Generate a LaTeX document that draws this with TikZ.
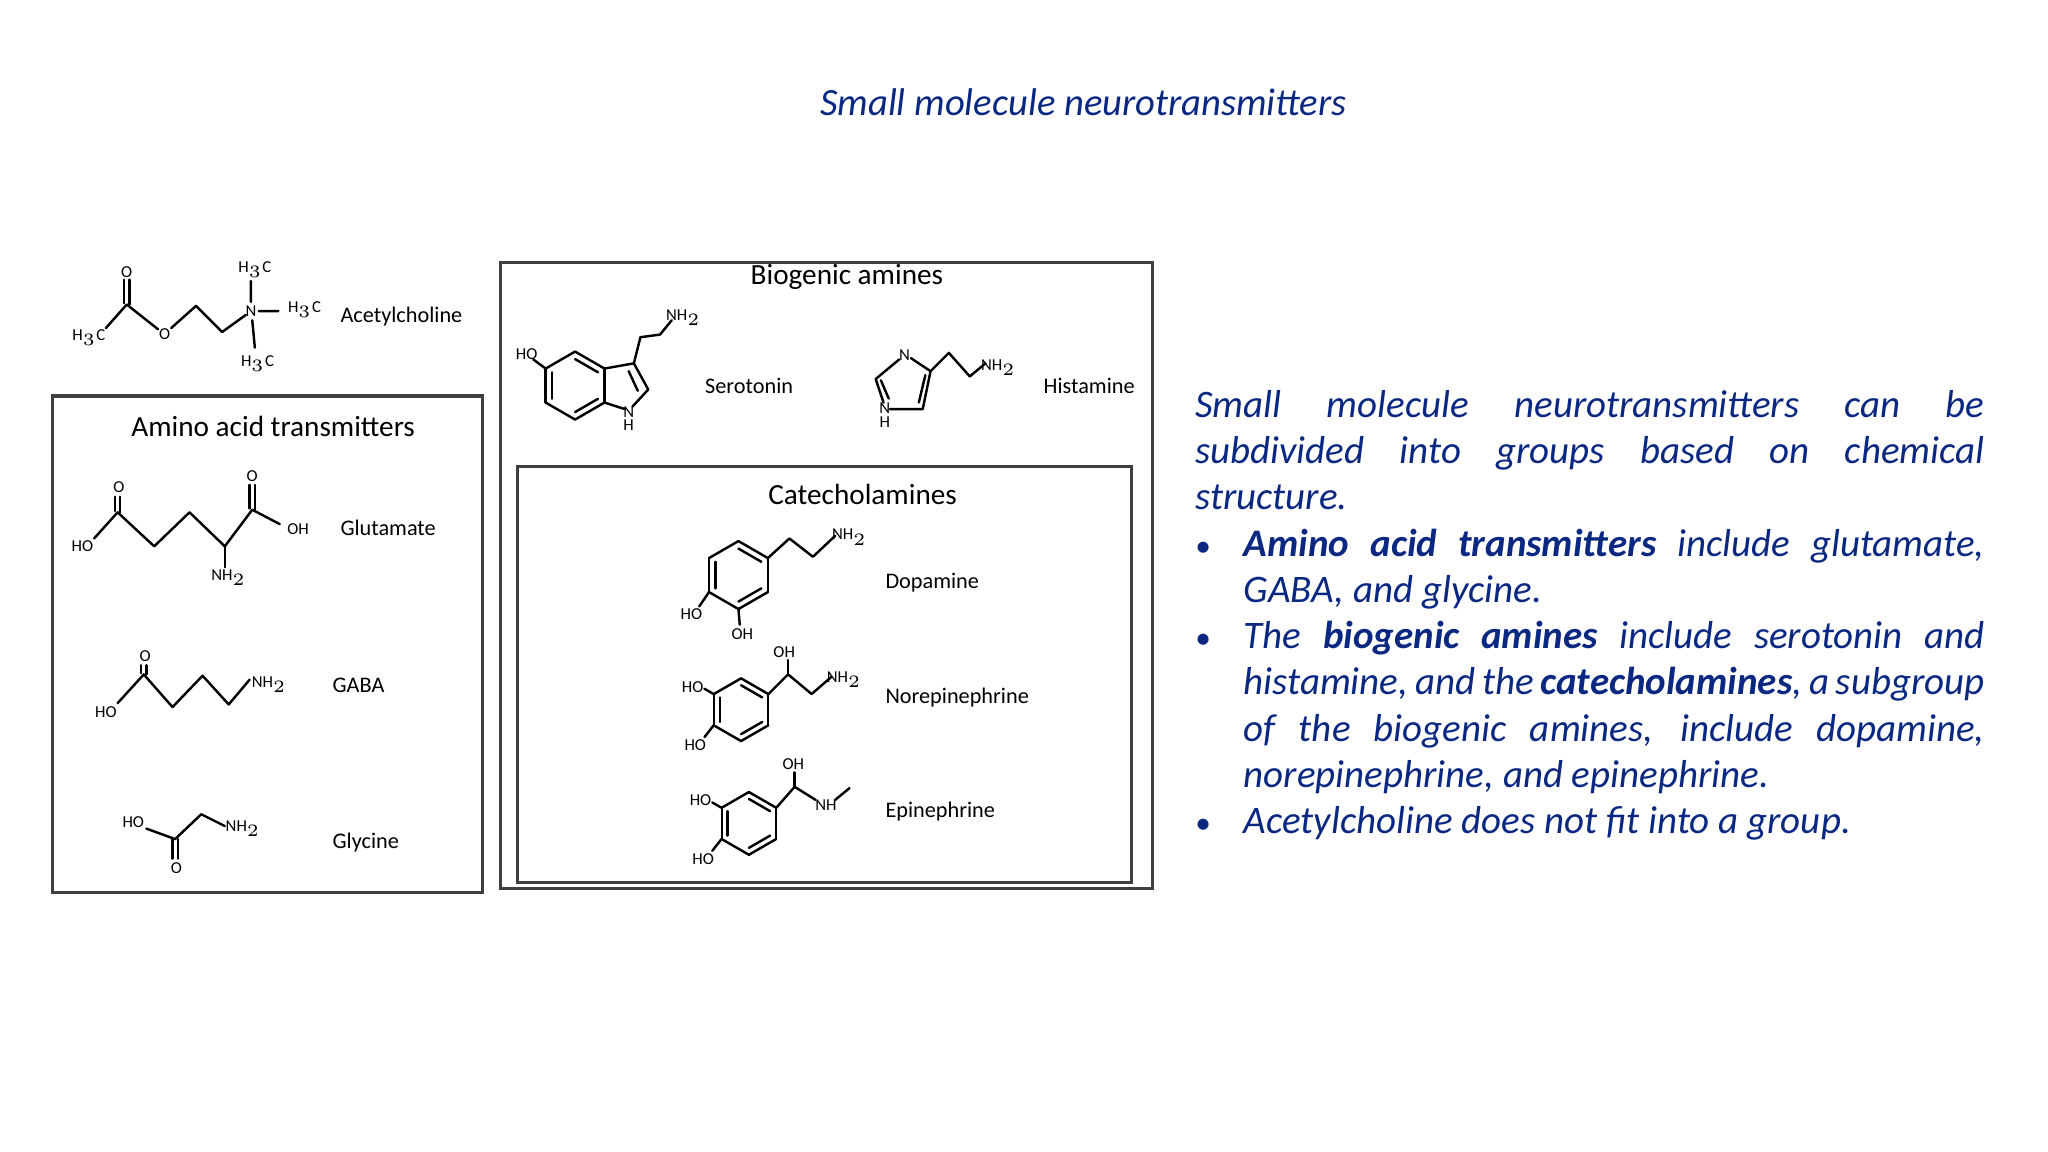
\documentclass[tikz,border=0pt]{standalone}
\usepackage{fontspec}
\setmainfont{Carlito}
\usetikzlibrary{calc}
\definecolor{slideblue}{RGB}{10,40,130}
\newcommand{\benzene}[2]{%
  \foreach \a in {30,90,...,330}{\draw[bond] ($(#1)+(\a:#2)$) -- ($(#1)+(\a+60:#2)$);}
  \foreach \a in {30,150,270}{\draw[bond] ($(#1)+(\a:#2*0.78)$) -- ($(#1)+(\a+60:#2*0.78)$);}
}
\newcommand{\bul}{\hangindent=0.49cm\hangafter=1\noindent\makebox[0.49cm][l]{\upshape\small\textbullet}}
\begin{document}
\begin{tikzpicture}[x=0.0132cm, y=-0.0132cm,
bond/.style={line width=0.7pt, line cap=round, line join=round},
atom/.style={font=\fontsize{4.8}{5}\selectfont, inner sep=0.3pt},
molname/.style={font=\fontsize{6.4}{7}\selectfont, anchor=west, inner sep=0pt},
boxtitle/.style={font=\fontsize{8.4}{10}\selectfont},
frame/.style={draw=black!75, line width=0.9pt},
]
\useasboundingbox (0,0) rectangle (1567,881.4);
%Title
\node[font=\fontsize{11.1}{13}\selectfont\itshape, text=slideblue] (title) at (829,78) {Small molecule neurotransmitters};

%Boxes
\draw[frame] (40,303) rectangle (369,683);
\draw[frame] (383,201) rectangle (882,680);
\draw[frame] (396,357) rectangle (866,675);
\node[boxtitle] (aminotitle) at (209,326) {Amino acid transmitters};
\node[boxtitle] (biotitle) at (648,212) {Biogenic amines};
\node[boxtitle] (catetitle) at (660,378) {Catecholamines};

%Acetylcholine
\node[atom] (ach1) at (68,258) {H$_3$C};
\node[atom] (acho1) at (97,208) {O};
\node[atom] (acho2) at (126,256) {O};
\node[atom] (achn) at (192,238) {N};
\node[atom] (achm1) at (195,206) {H$_3$C};
\node[atom] (achm2) at (233,237) {H$_3$C};
\node[atom] (achm3) at (197,278) {H$_3$C};
\draw[bond] (81,251) -- (97,233) -- (121,252);
\draw[bond] (95,232) -- (95,214) (99,233) -- (99,214);
\draw[bond] (131,251) -- (150,234) -- (170,254) -- (188,241);
\draw[bond] (192,215) -- (192,231) (198,238) -- (213,238) (193,245) -- (195,266);
\node[molname] (ach) at (260,242) {Acetylcholine};

%Glutamate
\node[atom] (gluho) at (63,418) {HO};
\node[atom] (gluo1) at (91,373) {O};
\node[atom] (gluo2) at (193,364) {O};
\node[atom] (gluoh) at (228,405) {OH};
\node[atom] (glun) at (175,442) {NH$_2$};
\draw[bond] (72,412) -- (90,392) -- (118,418) -- (145,392) -- (172,418) -- (193,390) -- (214,401);
\draw[bond] (88,391) -- (88,380) (92,392) -- (92,380);
\draw[bond] (191,389) -- (191,371) (195,390) -- (195,371);
\draw[bond] (172,418) -- (172,434);
\node[molname] (glu) at (260,404) {Glutamate};

%GABA
\node[atom] (gabaho) at (81,545) {HO};
\node[atom] (gabao) at (111,502) {O};
\node[atom] (gaban) at (206,524) {NH$_2$};
\draw[bond] (90,538) -- (110,516) -- (132,541) -- (155,517) -- (175,539) -- (191,520);
\draw[bond] (108,515) -- (108,509) (112,516) -- (112,509);
\node[molname] (gaba) at (254,524) {GABA};

%Glycine
\node[atom] (glyho) at (102,629) {HO};
\node[atom] (glyo) at (135,664) {O};
\node[atom] (glyn) at (186,634) {NH$_2$};
\draw[bond] (112,634) -- (134,642) -- (154,623) -- (172,632);
\draw[bond] (132,642) -- (132,657) (136,642) -- (136,657);
\node[molname] (gly) at (254,645) {Glycine};

%Serotonin
\coordinate (serc) at (440,295);
\benzene{serc}{26}
\node[atom] (serho) at (403,271) {HO};
\node[atom] (sern) at (481,315) {N};
\node[atom] (serh) at (481,325) {H};
\node[atom] (sernh) at (523,243) {NH$_2$};
\draw[bond] (462.5,308) -- (478,313) (484,311) -- (496,298) -- (485,278) -- (462.5,282);
\draw[bond] (488,299) -- (481,284);
\draw[bond] (417.5,282) -- (408,275);
\draw[bond] (485,278) -- (490,258) -- (505,256) -- (514,245);
\node[molname] (ser) at (539,295) {Serotonin};

%Histamine
\node[atom] (hisn3) at (692,272) {N};
\node[atom] (hisn1) at (677,312) {N};
\node[atom] (hish) at (677,323) {H};
\node[atom] (hisnh) at (764,281) {NH$_2$};
\draw[bond] (688,275) -- (670,290) -- (676,308) (681,313) -- (706,313) -- (712,284) -- (697,274);
\draw[bond] (674,291) -- (680,305) (703,308) -- (708,287);
\draw[bond] (712,284) -- (726,270) -- (742,288) -- (754,278);
\node[molname] (his) at (798,295) {Histamine};

%Dopamine
\coordinate (dopc) at (565,440);
\benzene{dopc}{26}
\node[atom] (dopho) at (529,470) {HO};
\node[atom] (dopoh) at (568,485) {OH};
\node[atom] (dopnh) at (650,411) {NH$_2$};
\draw[bond] (587.5,427) -- (604,412) -- (622,426) -- (639,410);
\draw[bond] (542.5,453) -- (535,464) (565,466) -- (566,478);
\node[molname] (dop) at (677,446) {Dopamine};

%Norepinephrine
\coordinate (norc) at (567,543);
\benzene{norc}{24}
\node[atom] (norho1) at (530,526) {HO};
\node[atom] (norho2) at (532,570) {HO};
\node[atom] (noroh) at (600,499) {OH};
\node[atom] (nornh) at (646,520) {NH$_2$};
\draw[bond] (546,531) -- (539,527) (546,555) -- (539,564);
\draw[bond] (588,531) -- (603,516) -- (621,531) -- (636,518);
\draw[bond] (603,516) -- (603,505);
\node[molname] (nor) at (677,534) {Norepinephrine};

%Epinephrine
\coordinate (epic) at (573,630);
\benzene{epic}{24}
\node[atom] (epiho1) at (536,612) {HO};
\node[atom] (epiho2) at (538,657) {HO};
\node[atom] (epioh) at (607,585) {OH};
\node[atom] (epinh) at (632,616) {NH};
\draw[bond] (552,618) -- (545,614) (552,642) -- (545,651);
\draw[bond] (594,618) -- (608,602) -- (624,612) (639,612) -- (650,603);
\draw[bond] (608,602) -- (608,591);
\node[molname] (epi) at (677,621) {Epinephrine};

%Text
\node[anchor=north west, text width=604*0.0132cm, align=justify, inner sep=0pt,
  font=\fontsize{11.2}{13.3}\selectfont\itshape, text=slideblue] (body) at (914,298)
{\hyphenpenalty=10000 Small molecule neurotransmitters can be subdivided into groups based on chemical structure.\par
\bul\textbf{Amino acid transmitters} include glutamate, GABA, and glycine.\par
\bul The \textbf{biogenic amines} include serotonin and histamine, and the \textbf{catecholamines}, a subgroup of the biogenic amines, include dopamine, norepinephrine, and epinephrine.\par
\bul Acetylcholine does not fit into a group.\par};
\end{tikzpicture}
\end{document}
